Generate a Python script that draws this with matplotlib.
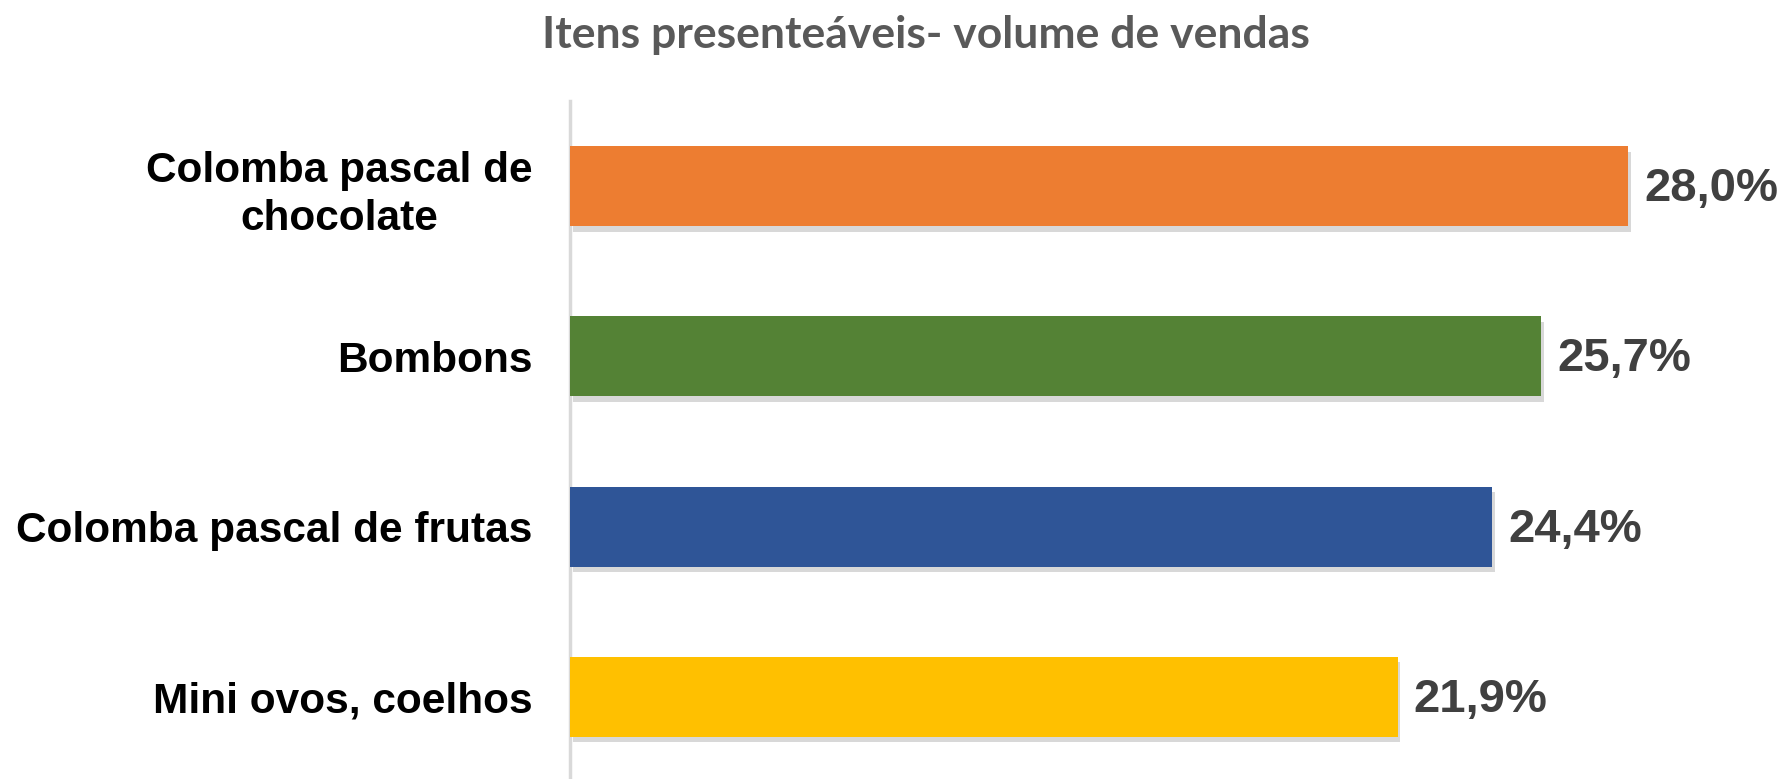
import matplotlib
matplotlib.use("Agg")
import matplotlib.pyplot as plt
import matplotlib.patheffects as pe

categories = ["Colomba pascal de\nchocolate", "Bombons", "Colomba pascal de frutas", "Mini ovos, coelhos"]
values = [28.0, 25.7, 24.4, 21.9]
value_labels = ["28,0%", "25,7%", "24,4%", "21,9%"]
colors = ["#ED7D31", "#548235", "#2F5597", "#FFC000"]
title = "Itens presenteáveis- volume de vendas"

W, H = 1788, 779
fig = plt.figure(figsize=(W / 100, H / 100), dpi=100)
ax = fig.add_axes([570 / W, 1 - 782 / H, 1218 / W, 681 / H])

ypos = list(range(len(categories)))
bars = ax.barh(ypos, values, height=0.47, color=colors, zorder=3)
for b in bars:
    b.set_path_effects([pe.SimplePatchShadow(offset=(2, -4), shadow_rgbFace="#7f7f7f", alpha=0.3), pe.Normal()])

ax.set_xlim(0, 32.23)
ax.set_ylim(len(categories) - 0.5, -0.5)
ax.set_yticks(ypos)
ax.set_yticklabels(categories, fontsize=30.5, fontweight="bold", family="Liberation Sans",
                   color="black", ha="right", multialignment="center", linespacing=1.28)
ax.tick_params(axis="y", length=0, pad=27)
ax.set_xticks([])
for s in ["top", "right", "bottom"]:
    ax.spines[s].set_visible(False)
ax.spines["left"].set_color("#D9D9D9")
ax.spines["left"].set_linewidth(2.5)

for y, v, lab in zip(ypos, values, value_labels):
    ax.annotate(lab, (v, y), xytext=(16, -3), textcoords="offset pixels", va="center", ha="left",
                fontsize=34, fontweight="bold", family="Liberation Sans", color="#404040")

fig.text(926 / W, 1 - 35 / H, title, ha="center", va="center", fontsize=32, fontweight="bold",
         family="Lato", color="#595959")

fig.savefig("out.png", dpi=100)
